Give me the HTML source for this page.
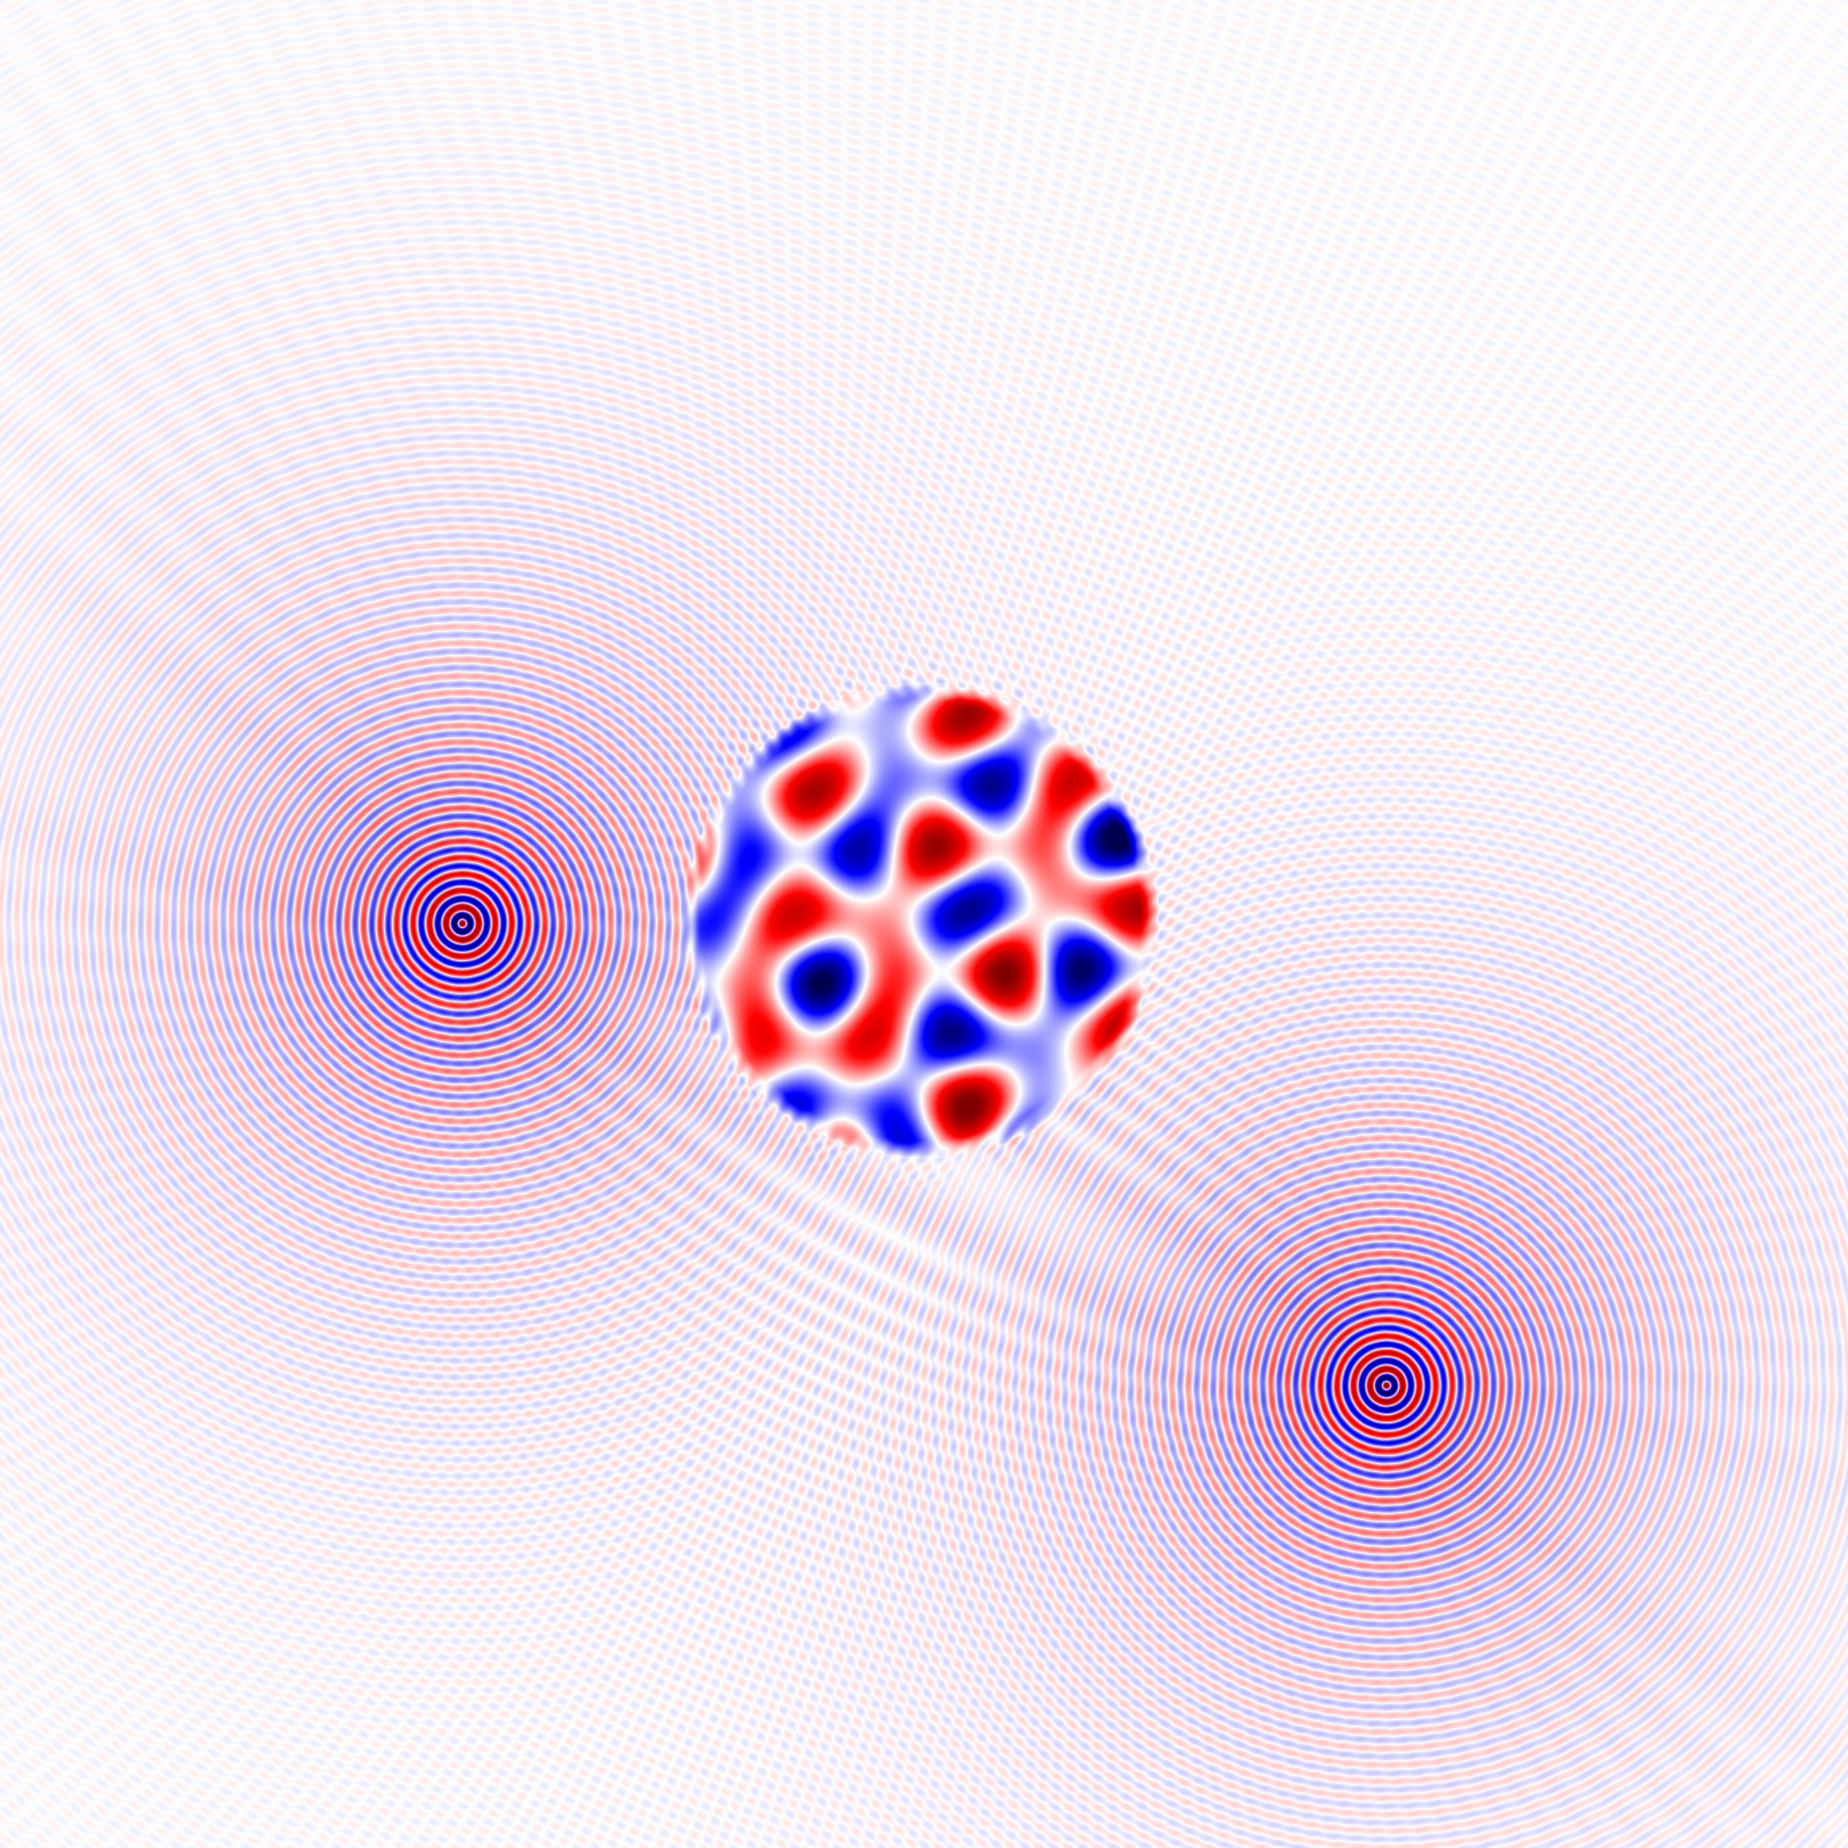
<!DOCTYPE html>
<html><head><meta charset="utf-8"><style>
html,body{margin:0;padding:0;background:#fff;}
canvas{display:block;}
</style></head><body>
<canvas id="c" width="1848" height="1848"></canvas>
<script>
// point sources
const sourceX = [462, 1386];
const sourceY = [923, 1385];
const sourceAmp = [1.2, 1.2];
const sourceWavelength = [16.5, 16.5];
// cavity
const cavityX = [920];
const cavityY = [920];
const cavityR = [230];
const cavityWaveAngles = [0.3, 1.1, 1.9, 2.6, 3.4, 4.3, 5.1, 5.8];
const cavityWavePhases = [0.5, 2.1, 4.0, 1.3, 5.2, 3.3, 0.9, 2.7];
const cavityWaveAmps = [1.0, 0.9, 1.1, 0.8, 1.0, 0.9, 0.8, 1.0];
const cavityWavelength = [118];

const cv = document.getElementById('c');
const ctx = cv.getContext('2d');
const W = 1848, H = 1848;
const img = ctx.createImageData(W, H);
const d = img.data;

function cmap(v){
  if (v > 1) v = 1; if (v < -1) v = -1;
  let r,g,b;
  if (v >= 0){
    if (v < 0.5){ const t=v/0.5; r=255; g=255*(1-t); b=255*(1-t); }
    else { const t=(v-0.5)/0.5; r=255*(1-0.5*t); g=0; b=0; }
  } else {
    const a=-v;
    if (a < 0.5){ const t=a/0.5; r=255*(1-t); g=255*(1-t); b=255; }
    else { const t=(a-0.5)/0.5; r=0; g=0; b=255*(1-0.7*t); }
  }
  return [r,g,b];
}

const kc = 2*Math.PI/cavityWavelength[0];
const dirX = cavityWaveAngles.map(a=>Math.cos(a)*kc);
const dirY = cavityWaveAngles.map(a=>Math.sin(a)*kc);
const ampSum = Math.sqrt(cavityWaveAmps.reduce((s,a)=>s+a*a,0)/2);

for (let y=0;y<H;y++){
  for (let x=0;x<W;x++){
    let v = 0;
    for (let i=0;i<sourceX.length;i++){
      const dx=x-sourceX[i], dy=y-sourceY[i];
      const r=Math.sqrt(dx*dx+dy*dy);
      const k=2*Math.PI/sourceWavelength[i];
      const a = sourceAmp[i]*(Math.exp(-r/300)*Math.sqrt(20/(r+20)) + 0.02*Math.exp(-r/1500));
      v += a*Math.cos(k*r);
    }
    const cx=x-cavityX[0], cy=y-cavityY[0];
    const rc=Math.sqrt(cx*cx+cy*cy);
    const R=cavityR[0];
    if (rc < R+8){
      let s=0;
      for (let j=0;j<dirX.length;j++){
        s += cavityWaveAmps[j]*Math.cos(dirX[j]*cx+dirY[j]*cy+cavityWavePhases[j]);
      }
      s = s/ampSum*0.36;
      let w = 1;
      if (rc > R-10) w = Math.max(0,(R+8-rc)/18);
      v = v*(1-w) + s*w;
    } else if (rc < R+50){
      v += 0.05*(1-(rc-R)/50)*Math.cos(2*Math.PI*rc/16.5)*Math.cos(8*Math.atan2(cy,cx));
    }
    const c = cmap(v);
    const idx=(y*W+x)*4;
    d[idx]=c[0]; d[idx+1]=c[1]; d[idx+2]=c[2]; d[idx+3]=255;
  }
}
ctx.putImageData(img,0,0);
</script>
</body></html>
